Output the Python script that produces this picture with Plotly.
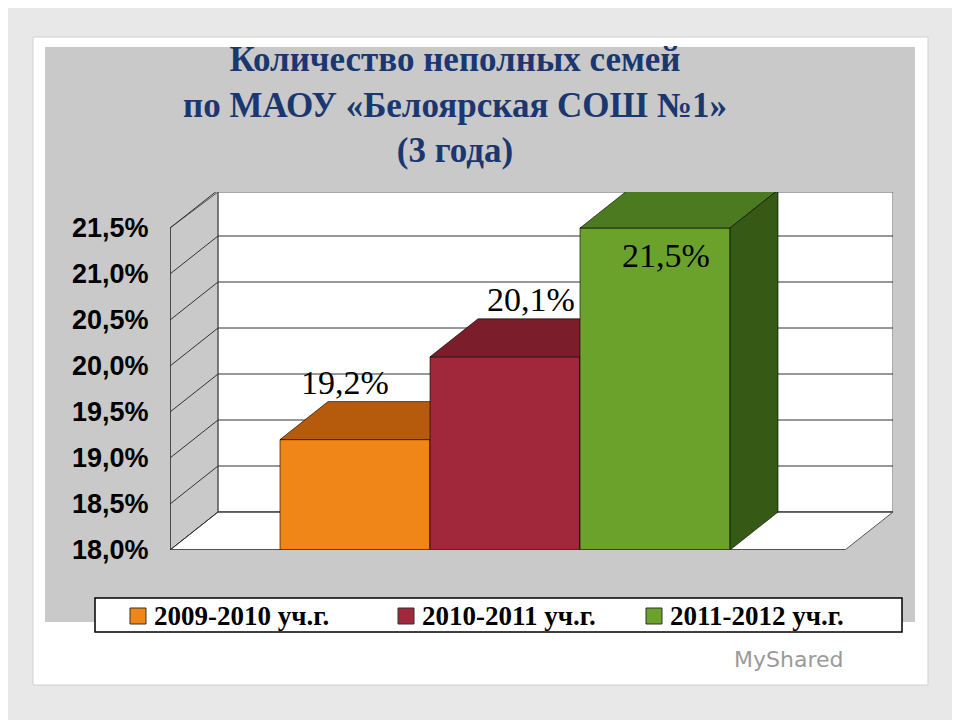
import plotly.graph_objects as go

categories = ["2009-2010 уч.г.", "2010-2011 уч.г.", "2011-2012 уч.г."]
values = [19.2, 20.1, 21.5]
labels = ["19,2%", "20,1%", "21,5%"]
tick_vals = [18.0, 18.5, 19.0, 19.5, 20.0, 20.5, 21.0, 21.5]
tick_text = ["<b>18,0%</b>", "<b>18,5%</b>", "<b>19,0%</b>", "<b>19,5%</b>", "<b>20,0%</b>",
             "<b>20,5%</b>", "<b>21,0%</b>", "<b>21,5%</b>"]
front_colors = ["#f08518", "#a1283a", "#6ba22c"]
top_colors = ["#b65b0c", "#7b1d2b", "#4b7a20"]
side_colors = ["#8c4508", "#5e1520", "#365916"]

W, H = 960, 720
OFF = 8
L, R, T, B = 170, 893, 192, 550
XMIN, XMAX = -0.5 - 110/150, 2.5 + 163/150
YMIN, YMAX = 18.0, 21.5 + 36/92
DX, DY = 48/150, 38/92
XEND = 2.5 + 115/150

def px(x):
    return (x - L) / (R - L)
def py(y):
    return (B - y) / (B - T)

fig = go.Figure()

def poly(xs, ys, color, line="rgba(0,0,0,0.6)"):
    fig.add_trace(go.Scatter(x=xs + [xs[0]], y=ys + [ys[0]], fill="toself", fillcolor=color,
                             mode="lines", line=dict(color=line, width=1), hoverinfo="skip", showlegend=False))

poly([XMIN + DX, XMAX, XMAX, XMIN + DX], [YMIN + DY, YMIN + DY, YMAX, YMAX], "white", "#555")
poly([XMIN, XMIN + DX, XMIN + DX, XMIN], [YMIN, YMIN + DY, YMAX, tick_vals[-1]], "rgba(0,0,0,0)", "#555")
poly([XMIN, XEND, XMAX, XMIN + DX], [YMIN, YMIN, YMIN + DY, YMIN + DY], "white", "#555")
for v in tick_vals:
    fig.add_trace(go.Scatter(x=[XMIN, XMIN + DX, XMAX], y=[v, v + DY, v + DY], mode="lines",
                             line=dict(color="#333", width=1), hoverinfo="skip", showlegend=False))
fig.add_trace(go.Scatter(x=[XMIN, XMIN], y=[YMIN, tick_vals[-1]], mode="lines",
                         line=dict(color="#333", width=1.5), hoverinfo="skip", showlegend=False))

for i, v in enumerate(values):
    x0, x1 = i - 0.5, i + 0.5
    poly([x0, x1, x1, x0], [YMIN, YMIN, v, v], front_colors[i])
    poly([x0, x1, x1 + DX, x0 + DX], [v, v, v + DY, v + DY], top_colors[i])
    poly([x1, x1 + DX, x1 + DX, x1], [YMIN, YMIN + DY, v + DY, v], side_colors[i])

fig.add_trace(go.Scatter(x=[XMIN, XEND], y=[YMIN, YMIN], mode="lines",
                         line=dict(color="#333", width=1.5), hoverinfo="skip", showlegend=False))

label_pos = [(-0.07, values[0] + 0.62), (1.17, values[1] + 0.62), (2.07, values[2] - 0.3)]
for (lx, ly), t in zip(label_pos, labels):
    fig.add_annotation(x=lx, y=ly, text=t, showarrow=False,
                       font=dict(family="Liberation Serif", size=34, color="black"))

shapes = [
    dict(type="rect", xref="paper", yref="paper", x0=px(33), x1=px(928), y0=py(685), y1=py(37),
         fillcolor="white", line=dict(color="#d0d0d0", width=1), layer="below"),
    dict(type="rect", xref="paper", yref="paper", x0=px(45), x1=px(915), y0=py(622), y1=py(47),
         fillcolor="#c9c9c9", line=dict(width=0), layer="below"),
    dict(type="rect", xref="paper", yref="paper", x0=px(95), x1=px(902), y0=py(632), y1=py(598),
         fillcolor="white", line=dict(color="black", width=1.5)),
]
leg_x = [130, 398, 646]
for lx, c, name in zip(leg_x, front_colors, categories):
    shapes.append(dict(type="rect", xref="paper", yref="paper", x0=px(lx), x1=px(lx + 16),
                       y0=py(624), y1=py(608), fillcolor=c, line=dict(color="#333", width=1)))
    fig.add_annotation(xref="paper", yref="paper", x=px(lx + 22), y=py(616), xanchor="left",
                       yanchor="middle", text="<b>" + name + "</b>", showarrow=False,
                       font=dict(family="Liberation Serif", size=27, color="black"))

fig.add_annotation(xref="paper", yref="paper", x=px(455), y=py(38), xanchor="center", yanchor="top",
                   text="<b>Количество неполных семей<br>по МАОУ «Белоярская СОШ №1»<br>(3 года)</b>",
                   showarrow=False, align="center",
                   font=dict(family="Liberation Serif", size=35, color="#1b3770"))
fig.add_annotation(xref="paper", yref="paper", x=px(845), y=py(674),
                   text="MyShared", showarrow=False,
                   font=dict(family="DejaVu Sans", size=22, color="#9a9a9a"))

fig.update_layout(width=W, height=H,
                  margin=dict(l=L - OFF, r=W - R + OFF, t=T - OFF, b=H - B + OFF),
                  paper_bgcolor="#e8e8e8", plot_bgcolor="rgba(0,0,0,0)", shapes=shapes,
                  showlegend=False)
fig.update_xaxes(range=[XMIN, XMAX], visible=False, automargin=False)
fig.update_yaxes(range=[YMIN, YMAX], tickvals=tick_vals, ticktext=tick_text, showgrid=False,
                 zeroline=False, showline=False, ticks="outside", ticklen=15,
                 tickcolor="rgba(0,0,0,0)", automargin=False,
                 tickfont=dict(family="Liberation Sans", size=27, color="black"))
fig.write_html("out.html")
